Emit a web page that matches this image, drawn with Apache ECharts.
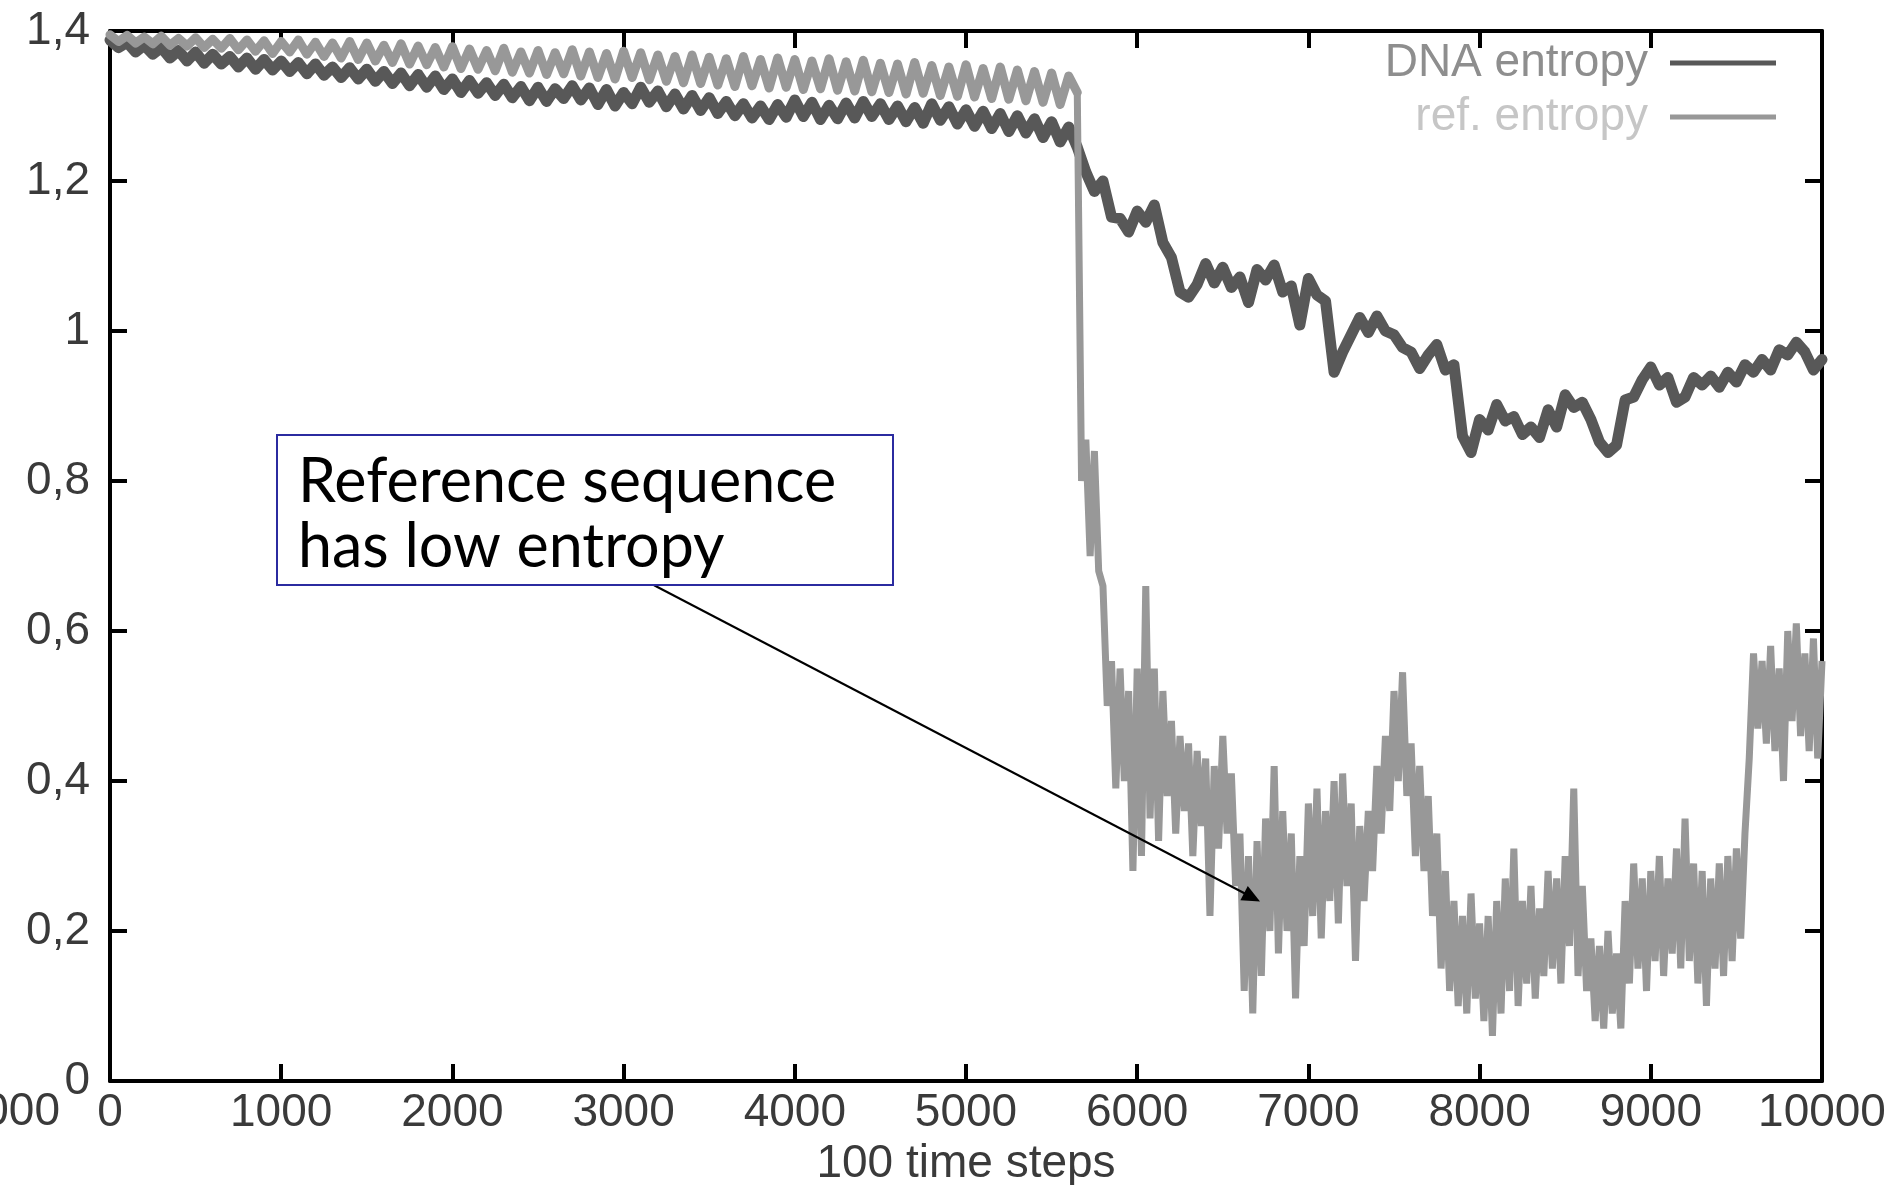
<!DOCTYPE html>
<html>
<head>
<meta charset="utf-8">
<script src="https://cdn.jsdelivr.net/npm/echarts@6/dist/echarts.min.js"></script>
<style>
html,body{margin:0;padding:0;background:#fff;}
#chart{width:1897px;height:1185px;}
</style>
</head>
<body>
<div id="chart"></div>
<script>
// ---- data ----
const seriesNames = ['DNA entropy', 'ref. entropy'];
const xTicks = [0, 1000, 2000, 3000, 4000, 5000, 6000, 7000, 8000, 9000, 10000];
const yTicks = [0, 0.2, 0.4, 0.6, 0.8, 1, 1.2, 1.4];
const xAxisTitle = '100 time steps';

// DNA entropy, sampled every 50 time units from 0 to 10000
const dnaStart = 0, dnaStep = 50;
const dnaValues = [
  // 0 - 950
  1.388,1.378,1.385,1.372,1.381,1.369,1.378,1.364,1.374,1.360,1.372,1.357,1.369,1.356,1.366,1.352,1.364,1.349,1.362,1.348,
  // 1000 - 1950
  1.360,1.346,1.358,1.343,1.356,1.341,1.352,1.338,1.351,1.336,1.349,1.333,1.346,1.330,1.344,1.327,1.342,1.325,1.340,1.322,
  // 2000 - 2950
  1.336,1.318,1.334,1.317,1.331,1.314,1.329,1.311,1.326,1.307,1.325,1.306,1.323,1.310,1.327,1.308,1.324,1.302,1.322,1.300,
  // 3000 - 3950
  1.318,1.303,1.325,1.305,1.320,1.299,1.316,1.296,1.314,1.294,1.311,1.290,1.306,1.287,1.303,1.284,1.300,1.282,1.302,1.285,
  // 4000 - 4950
  1.308,1.286,1.305,1.282,1.301,1.283,1.304,1.284,1.306,1.286,1.303,1.282,1.300,1.279,1.298,1.277,1.303,1.281,1.299,1.276,
  // 5000 - 5950
  1.295,1.273,1.293,1.270,1.290,1.266,1.287,1.264,1.283,1.258,1.279,1.252,1.272,1.245,1.212,1.186,1.200,1.152,1.150,1.132,
  // 6000 - 6950
  1.160,1.145,1.168,1.118,1.098,1.052,1.045,1.062,1.090,1.064,1.085,1.058,1.072,1.038,1.082,1.068,1.088,1.052,1.060,1.008,
  // 7000 - 7950
  1.070,1.048,1.040,0.945,0.972,0.995,1.018,0.998,1.020,1.000,0.995,0.978,0.972,0.950,0.968,0.982,0.948,0.955,0.860,0.838,
  // 8000 - 8950
  0.882,0.868,0.902,0.880,0.886,0.862,0.872,0.858,0.895,0.872,0.915,0.898,0.905,0.882,0.852,0.838,0.848,0.908,0.912,0.935,
  // 9000 - 9950
  0.952,0.928,0.938,0.905,0.912,0.938,0.928,0.940,0.925,0.945,0.932,0.955,0.945,0.962,0.948,0.975,0.968,0.985,0.972,0.948,
  // 10000
  0.962
];

// ref. entropy, every 50 time units from 0 to 5650
const refEarlyStart = 0, refEarlyStep = 50;
const refEarly = [
  // 0 - 950
  1.395,1.386,1.394,1.384,1.392,1.383,1.393,1.381,1.390,1.380,1.391,1.378,1.389,1.377,1.390,1.375,1.388,1.373,1.387,1.370,
  // 1000 - 1950
  1.386,1.372,1.388,1.369,1.385,1.366,1.384,1.364,1.386,1.362,1.384,1.360,1.381,1.358,1.383,1.356,1.380,1.355,1.378,1.352,
  // 2000 - 2950
  1.379,1.350,1.376,1.349,1.374,1.347,1.377,1.345,1.372,1.344,1.374,1.342,1.371,1.343,1.375,1.340,1.372,1.338,1.370,1.336,
  // 3000 - 3950
  1.373,1.338,1.371,1.335,1.368,1.333,1.366,1.331,1.368,1.330,1.365,1.328,1.363,1.326,1.366,1.327,1.362,1.324,1.364,1.325,
  // 4000 - 4950
  1.362,1.322,1.360,1.323,1.363,1.321,1.359,1.320,1.361,1.319,1.357,1.318,1.356,1.316,1.358,1.317,1.354,1.314,1.352,1.313,
  // 5000 - 5650
  1.355,1.312,1.350,1.310,1.352,1.309,1.348,1.307,1.346,1.305,1.344,1.302,1.340,1.318
];

// ref. entropy, every 25 time units from 5675 to 10000
const refLateStart = 5675, refLateStep = 25;
const refLate = [
  // 5675 - 5775
  0.80,0.855,0.70,0.84,0.68,
  // 5800 - 5975
  0.66,0.50,0.56,0.39,0.55,0.40,0.52,0.28,
  // 6000 - 6975
  0.55,0.30,0.66,0.35, 0.55,0.32,0.52,0.38, 0.48,0.33,0.46,0.36, 0.45,0.30,0.44,0.34, 0.43,0.22,0.42,0.31,
  0.46,0.33,0.41,0.26, 0.33,0.12,0.30,0.09, 0.32,0.14,0.35,0.20, 0.42,0.17,0.36,0.20, 0.33,0.11,0.30,0.18,
  // 7000 - 7975
  0.37,0.22,0.39,0.19, 0.36,0.24,0.40,0.21, 0.41,0.26,0.37,0.16, 0.34,0.24,0.36,0.28, 0.42,0.33,0.46,0.36,
  0.52,0.40,0.545,0.38, 0.45,0.30,0.42,0.28, 0.38,0.22,0.33,0.15, 0.28,0.12,0.24,0.10, 0.22,0.09,0.25,0.11,
  // 8000 - 8975
  0.21,0.08,0.22,0.06, 0.24,0.09,0.27,0.12, 0.31,0.10,0.24,0.13, 0.26,0.11,0.23,0.14, 0.28,0.15,0.27,0.13,
  0.30,0.18,0.39,0.14, 0.26,0.12,0.19,0.08, 0.18,0.07,0.20,0.09, 0.17,0.07,0.24,0.13, 0.29,0.15,0.27,0.12,
  // 9000 - 9975
  0.28,0.16,0.30,0.14, 0.27,0.17,0.31,0.15, 0.35,0.16,0.29,0.13, 0.28,0.10,0.27,0.15, 0.29,0.14,0.30,0.16,
  0.31,0.19,0.33,0.43, 0.57,0.47,0.56,0.45, 0.58,0.44,0.55,0.40, 0.60,0.48,0.61,0.46, 0.57,0.44,0.59,0.43,
  // 10000
  0.56
];

// annotation
const noteText = ['Reference sequence', 'has low entropy'];
const arrowFrom = [3178, 0.661];
const arrowTo = [6671, 0.245];

// ---- build ----
const dnaData = dnaValues.map((v, i) => [dnaStart + i * dnaStep, v]);
const refEarlyData = refEarly.map((v, i) => [refEarlyStart + i * refEarlyStep, v]);
// the late part continues from the last early point (the vertical drop)
const refLateData = [refEarlyData[refEarlyData.length - 1]]
  .concat(refLate.map((v, i) => [refLateStart + i * refLateStep, v]));

const FONT = 'Liberation Sans';
const LABEL_COLOR = '#3a3a3a';
const DNA_COLOR = '#585858';
const REF_COLOR = '#989898';

const chart = echarts.init(document.getElementById('chart'), null, {renderer: 'canvas'});

const axisCommon = {
  axisLine: {show: true, onZero: false, lineStyle: {color: '#000', width: 4}},
  axisTick: {show: true, inside: true, length: 17, lineStyle: {color: '#000', width: 4}},
  splitLine: {show: false}
};

chart.setOption({
  animation: false,
  backgroundColor: '#fff',
  grid: {left: 110, right: 75, top: 31, bottom: 104, containLabel: false, outerBoundsMode: 'none'},
  legend: {
    orient: 'vertical',
    align: 'right',
    right: 121,
    top: 40,
    padding: 0,
    itemGap: 8,
    icon: 'rect',
    itemWidth: 106,
    itemHeight: 5,
    selectedMode: false,
    textStyle: {fontFamily: FONT, fontSize: 46, lineHeight: 46, padding: [0, 17, 0, 0]},
    data: [
      {name: seriesNames[0], textStyle: {color: '#8e8e8e'}},
      {name: seriesNames[1], textStyle: {color: '#c6c6c6'}}
    ]
  },
  xAxis: [
    Object.assign({}, axisCommon, {
      type: 'value', position: 'bottom',
      min: xTicks[0], max: xTicks[xTicks.length - 1], interval: xTicks[1] - xTicks[0],
      name: xAxisTitle, nameLocation: 'middle', nameGap: 59,
      nameTextStyle: {fontFamily: FONT, fontSize: 46, color: LABEL_COLOR},
      axisLabel: {show: true, margin: 9, fontFamily: FONT, fontSize: 46, color: LABEL_COLOR,
        formatter: v => String(v)}
    }),
    Object.assign({}, axisCommon, {
      type: 'value', position: 'top',
      min: xTicks[0], max: xTicks[xTicks.length - 1], interval: xTicks[1] - xTicks[0],
      axisLabel: {show: false}
    })
  ],
  yAxis: [
    Object.assign({}, axisCommon, {
      type: 'value', position: 'left',
      min: yTicks[0], max: yTicks[yTicks.length - 1], interval: 0.2,
      axisLabel: {show: true, margin: 20, fontFamily: FONT, fontSize: 46, color: LABEL_COLOR,
        formatter: v => String(Math.round(v * 10) / 10).replace('.', ',')}
    }),
    Object.assign({}, axisCommon, {
      type: 'value', position: 'right',
      min: yTicks[0], max: yTicks[yTicks.length - 1], interval: 0.2,
      axisLabel: {show: false}
    })
  ],
  series: [
    {
      name: seriesNames[0], type: 'line', xAxisIndex: 0, yAxisIndex: 0,
      data: dnaData, showSymbol: false, symbol: 'none', sampling: false,
      color: DNA_COLOR,
      lineStyle: {color: DNA_COLOR, width: 11, join: 'round', cap: 'round'},
      emphasis: {disabled: true}, silent: true, z: 2
    },
    {
      name: seriesNames[1], type: 'line', xAxisIndex: 0, yAxisIndex: 0,
      data: refEarlyData, showSymbol: false, symbol: 'none', sampling: false,
      color: REF_COLOR,
      lineStyle: {color: REF_COLOR, width: 9, join: 'round', cap: 'round'},
      emphasis: {disabled: true}, silent: true, z: 3
    },
    {
      name: seriesNames[1], type: 'line', xAxisIndex: 0, yAxisIndex: 0,
      data: refLateData, showSymbol: false, symbol: 'none', sampling: false,
      color: REF_COLOR,
      lineStyle: {color: REF_COLOR, width: 7, join: 'bevel', cap: 'butt'},
      emphasis: {disabled: true}, silent: true, z: 3,
      markLine: {
        silent: true, animation: false,
        symbol: ['none', 'triangle'], symbolSize: [16, 18],
        label: {show: false},
        lineStyle: {color: '#000', width: 2, type: 'solid'},
        emphasis: {disabled: true},
        data: [[{coord: arrowFrom}, {coord: arrowTo}]]
      }
    }
  ],
  graphic: [
    {
      type: 'rect', z: 10,
      shape: {x: 277, y: 435, width: 616, height: 150},
      style: {fill: '#fff', stroke: '#2b2ba0', lineWidth: 2}
    },
    {
      type: 'text', z: 11, left: 298, top: 450,
      style: {text: noteText.join('\n'), font: '61px Lato', lineHeight: 65, fill: '#000'}
    },
    {
      type: 'text', z: 11, x: 60, y: 1112,
      style: {text: '10000', font: '46px "Liberation Sans"', fill: LABEL_COLOR,
        textAlign: 'right', textVerticalAlign: 'middle'}
    }
  ]
});
</script>
</body>
</html>
